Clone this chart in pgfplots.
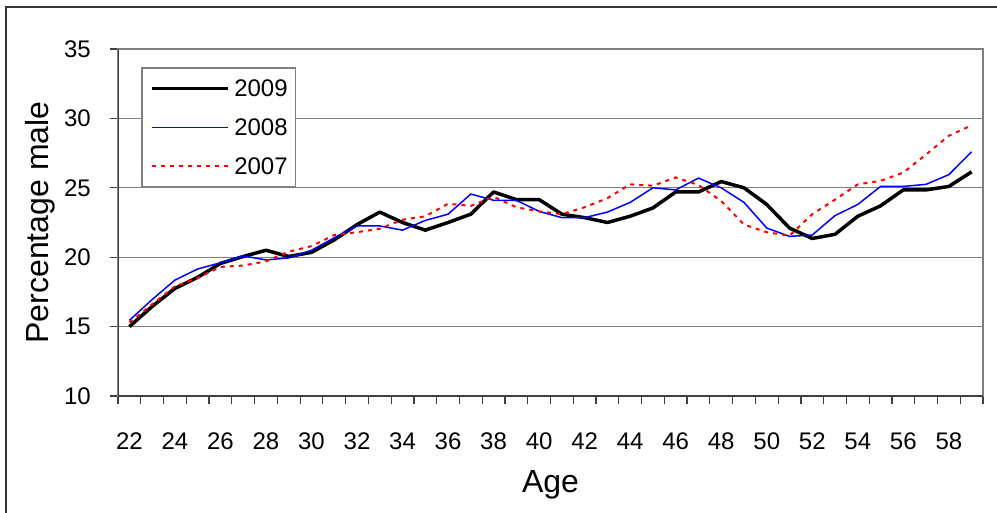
\documentclass[border=0pt]{standalone}
\usepackage{pgfplots}
\pgfplotsset{compat=1.18}
\usepackage{fontspec}
\setmainfont{Liberation Sans}
\definecolor{gridgray}{HTML}{808080}
\definecolor{axisdark}{HTML}{404040}
\definecolor{framecol}{HTML}{333333}
\begin{document}
\begin{tikzpicture}
\path[use as bounding box] (0,0) rectangle (997bp,-513bp);
\draw[framecol, line width=1.3bp] (6bp,-520bp) -- (6bp,-7bp) -- (1005bp,-7bp);
\begin{axis}[
  at={(118bp,-396bp)}, anchor=south west,
  scale only axis, width=865bp, height=347bp,
  xmin=21.5, xmax=59.5, ymin=10, ymax=35,
  xtick={22,24,...,58},
  minor xtick={21.5,22.5,...,59.5},
  ytick={10,15,...,35},
  major x tick style={draw=none},
  tick align=outside, tick pos=left,
  major tick length=8bp, minor tick length=8bp,
  every tick/.style={axisdark, line width=1.2bp},
  ymajorgrids,
  grid style={gridgray, line width=1.3bp},
  axis line style={gridgray, line width=1.3bp},
  tick label style={font=\fontsize{24bp}{28bp}\selectfont, inner sep=0pt},
  /pgf/number format/assume math mode=true,
  xticklabel shift=29bp,
  yticklabel shift=19bp,
  xlabel={Age}, ylabel={Percentage male},
  every axis x label/.style={at={(axis description cs:0.5,-0.2565)}, anchor=center, font=\fontsize{32bp}{38bp}\selectfont},
  every axis y label/.style={at={(axis description cs:-0.0902,0.5)}, anchor=center, rotate=90, font=\fontsize{32bp}{38bp}\selectfont},
  legend style={at={(axis description cs:0.0266,0.9481)}, anchor=north west,
    draw=gridgray, line width=1.5bp, fill=white,
    inner xsep=8bp, inner ysep=11.5bp, row sep=20.8bp,
    font=\fontsize{24bp}{28bp}\selectfont, nodes={inner sep=0pt},
    /tikz/every odd column/.append style={column sep=5bp}},
  legend image code/.code={\draw[#1] (0bp,0bp) -- (76bp,0bp);},
]
\addplot[black, line width=3.5bp, line join=round] coordinates {
(22,15.0) (23,16.45) (24,17.75) (25,18.55) (26,19.55) (27,20.05) (28,20.5) (29,20.05)
(30,20.35) (31,21.25) (32,22.35) (33,23.25) (34,22.5) (35,21.95) (36,22.5) (37,23.1)
(38,24.7) (39,24.15) (40,24.15) (41,23.1) (42,22.85) (43,22.5) (44,22.95) (45,23.55)
(46,24.7) (47,24.7) (48,25.45) (49,25.0) (50,23.8) (51,22.1) (52,21.35) (53,21.65)
(54,22.95) (55,23.7) (56,24.85) (57,24.85) (58,25.1) (59,26.15)};
\addlegendentry{2009}
\addplot[blue, line width=1.5bp] coordinates {
(22,15.45) (23,16.95) (24,18.35) (25,19.15) (26,19.6) (27,20.1) (28,19.8) (29,19.95)
(30,20.5) (31,21.4) (32,22.25) (33,22.25) (34,21.95) (35,22.65) (36,23.1) (37,24.55)
(38,24.1) (39,24.1) (40,23.3) (41,22.85) (42,22.85) (43,23.25) (44,23.95) (45,25.0)
(46,24.85) (47,25.7) (48,25.0) (49,23.95) (50,22.1) (51,21.5) (52,21.6) (53,23.0)
(54,23.8) (55,25.1) (56,25.1) (57,25.25) (58,25.95) (59,27.6)};
\addlegendentry{2008}
\addplot[red, line width=2bp, dash pattern=on 4bp off 5bp] coordinates {
(22,15.3) (23,16.6) (24,17.9) (25,18.5) (26,19.3) (27,19.4) (28,19.7) (29,20.4)
(30,20.8) (31,21.6) (32,21.8) (33,22.05) (34,22.7) (35,22.95) (36,23.85) (37,23.7)
(38,24.35) (39,23.6) (40,23.3) (41,23.1) (42,23.6) (43,24.25) (44,25.25) (45,25.15)
(46,25.75) (47,25.2) (48,24.05) (49,22.35) (50,21.8) (51,21.55) (52,23.1) (53,24.15)
(54,25.25) (55,25.5) (56,26.1) (57,27.4) (58,28.75) (59,29.5)};
\addlegendentry{2007}
\draw[axisdark, line width=1.3bp] (rel axis cs:0,1) -- (rel axis cs:0,0) -- (rel axis cs:1,0);
\end{axis}
\end{tikzpicture}
\end{document}
